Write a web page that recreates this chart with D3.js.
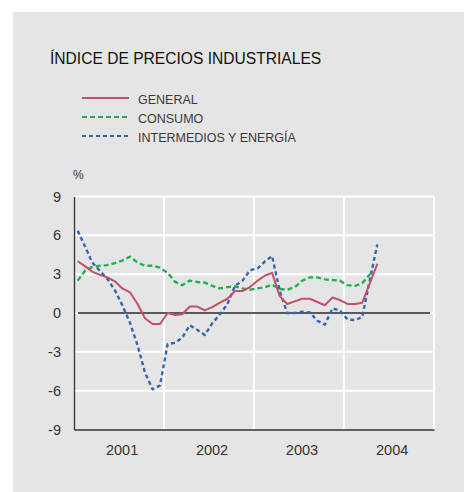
<!DOCTYPE html>
<html>
<head>
<meta charset="utf-8">
<script src="https://cdn.jsdelivr.net/npm/d3@7"></script>
<style>
  body { margin: 0; background: #fff; }
  svg { display: block; font-family: "Liberation Sans", Arial, sans-serif; }
</style>
</head>
<body>
<svg id="chart" width="464" height="492"></svg>
<script>
// monthly data, Jan 2001 .. May 2004
const startMonth = "2001-01";
const years = [2001, 2002, 2003, 2004];
const yTicks = [-9, -6, -3, 0, 3, 6, 9];

const general = [4.0, 3.6, 3.2, 2.95, 2.75, 2.45, 1.9, 1.6, 0.7, -0.4,
  -0.85, -0.85, 0.0, -0.15, -0.1, 0.5, 0.5, 0.2, 0.45, 0.8,
  1.1, 1.7, 1.7, 2.0, 2.5, 2.9, 3.1, 1.3, 0.7, 0.9,
  1.1, 1.1, 0.85, 0.6, 1.2, 1.0, 0.7, 0.7, 0.8, 2.3, 3.8];
const consumo = [2.5, 3.3, 3.55, 3.65, 3.7, 3.85, 4.05, 4.35, 3.9, 3.65,
  3.65, 3.5, 3.1, 2.4, 2.15, 2.5, 2.4, 2.35, 2.1, 1.9,
  2.0, 2.05, 1.9, 1.8, 1.9, 2.0, 2.2, 1.85, 1.8, 2.0,
  2.5, 2.75, 2.75, 2.6, 2.55, 2.5, 2.15, 2.1, 2.3, 3.0];
const intermedios = [6.35, 5.1, 3.9, 3.25, 2.65, 1.75, 0.6, -0.75, -2.5, -4.6,
  -5.9, -5.6, -2.4, -2.3, -1.9, -0.95, -1.3, -1.7, -0.8, -0.1,
  0.7, 2.1, 2.5, 3.3, 3.45, 4.0, 4.4, 1.7, 0.0, 0.0,
  0.1, 0.05, -0.6, -0.9, 0.35, 0.2, -0.5, -0.55, -0.3, 2.6, 5.3];

const seriesNames = ["GENERAL", "CONSUMO", "INTERMEDIOS Y ENERGÍA"];
const seriesColors = ["#c2506b", "#1fb14c", "#3466ad"];
const seriesDash = [null, "5,3", "4,3"];
const seriesData = [general, consumo, intermedios];

const svg = d3.select("#chart");
const start = d3.timeParse("%Y-%m")(startMonth);

// month i is plotted at the middle of the month
function monthDate(i) {
  const d = d3.timeMonth.offset(start, i);
  return new Date(d.getTime() + 15 * 864e5);
}

const x = d3.scaleTime()
  .domain([new Date(2001, 0, 1), new Date(2005, 0, 1)])
  .range([74, 434]);
const y = d3.scaleLinear().domain([-9, 9]).range([429.5, 196.5]);

// background panel
svg.append("rect")
  .attr("x", 13).attr("y", 12)
  .attr("width", 451).attr("height", 480)
  .attr("fill", "#e5e5e5");

// title
svg.append("text")
  .attr("x", 50).attr("y", 64)
  .attr("font-size", "15.6px")
  .attr("fill", "#111")
  .text("ÍNDICE DE PRECIOS INDUSTRIALES");

// legend
const legend = svg.append("g").attr("transform", "translate(82,98)");
seriesNames.forEach(function (name, i) {
  const row = legend.append("g").attr("transform", "translate(0," + i * 19 + ")");
  row.append("line")
    .attr("x1", 0).attr("x2", 47)
    .attr("stroke", seriesColors[i])
    .attr("stroke-width", i == 0 ? 2 : 2.2)
    .attr("stroke-dasharray", seriesDash[i]);
  row.append("text")
    .attr("x", 56).attr("y", 5.5)
    .attr("font-size", "12.5px")
    .attr("fill", "#3a3a3a")
    .text(name);
});

svg.append("text")
  .attr("x", 73).attr("y", 179)
  .attr("font-size", "12px")
  .attr("fill", "#3a3a3a")
  .text("%");

// white grid
const grid = svg.append("g");
grid.selectAll(".hgrid")
  .data(yTicks.filter(function (d) { return d != -9; }))
  .enter().append("line")
  .attr("x1", x.range()[0]).attr("x2", x.range()[1])
  .attr("y1", function (d) { return y(d); })
  .attr("y2", function (d) { return y(d); })
  .attr("stroke", "#fff").attr("stroke-width", 2);
grid.selectAll(".vgrid")
  .data(years.map(function (yr) { return new Date(yr + 1, 0, 1); }))
  .enter().append("line")
  .attr("x1", function (d) { return x(d); })
  .attr("x2", function (d) { return x(d); })
  .attr("y1", y(9)).attr("y2", y(-9))
  .attr("stroke", "#fff").attr("stroke-width", 2);

// axes
const yAxis = svg.append("g")
  .attr("transform", "translate(74,0)")
  .call(d3.axisLeft(y).tickValues(yTicks)
    .tickFormat(function (d) { return String(d); })
    .tickSize(0).tickPadding(13));
yAxis.select(".domain").attr("stroke", "#333").attr("stroke-width", 1.3);
yAxis.selectAll(".tick text")
  .attr("font-size", "14.5px")
  .attr("font-family", "Liberation Sans, Arial, sans-serif")
  .attr("fill", "#333");

const xAxis = svg.append("g")
  .attr("transform", "translate(0," + y(-9) + ")")
  .call(d3.axisBottom(x)
    .tickValues(years.map(function (yr) { return new Date(yr, 6, 1); }))
    .tickFormat(d3.timeFormat("%Y"))
    .tickSize(0).tickPadding(15));
xAxis.select(".domain").attr("stroke", "#333").attr("stroke-width", 1.3);
xAxis.selectAll(".tick text")
  .attr("dx", 3)
  .attr("font-size", "14.5px")
  .attr("font-family", "Liberation Sans, Arial, sans-serif")
  .attr("fill", "#333");

// zero line
svg.append("line")
  .attr("x1", 78).attr("x2", 430)
  .attr("y1", y(0)).attr("y2", y(0))
  .attr("stroke", "#222").attr("stroke-width", 1.3);

// series
const line = d3.line()
  .x(function (d, i) { return x(monthDate(i)); })
  .y(function (d) { return y(d); });

[1, 2, 0].forEach(function (k) {
  svg.append("path")
    .datum(seriesData[k])
    .attr("d", line)
    .attr("fill", "none")
    .attr("stroke", seriesColors[k])
    .attr("stroke-width", k == 0 ? 2 : 2.4)
    .attr("stroke-dasharray", seriesDash[k])
    .attr("stroke-linejoin", "round");
});
</script>
</body>
</html>
